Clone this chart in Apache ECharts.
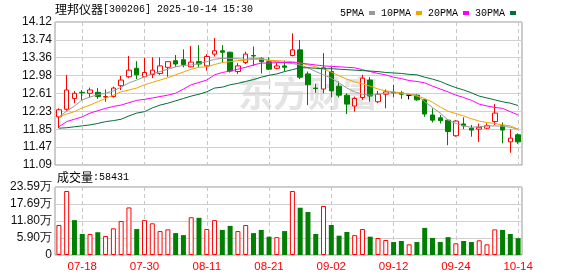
<!DOCTYPE html>
<html><head><meta charset="utf-8">
<script src="https://cdn.jsdelivr.net/npm/echarts@6/dist/echarts.min.js"></script>
<style>html,body{margin:0;padding:0;background:#fff}#c{width:578px;height:276px}</style>
</head><body><div id="c"></div>
<script>
const stockName = '理邦仪器';
const stockCode = '300206';
const timeStamp = '2025-10-14 15:30';
const lastVolume = 58431;

const dates = ['07-15','07-16','07-17','07-18','07-21','07-22','07-23','07-24','07-25','07-28','07-29','07-30','07-31',
'08-01','08-04','08-05','08-06','08-07','08-08','08-11','08-12','08-13','08-14','08-15','08-18','08-19','08-20','08-21','08-22','08-25','08-26','08-27','08-28','08-29',
'09-01','09-02','09-03','09-04','09-05','09-08','09-09','09-10','09-11','09-12','09-15','09-16','09-17','09-18','09-19','09-22','09-23','09-24','09-25','09-26','09-29','09-30',
'10-09','10-10','10-13','10-14'];
const xTickLabels = ['07-18','07-30','08-11','08-21','09-02','09-12','09-24','10-14'];

const opens  = [12.11,12.27,12.50,12.63,12.61,12.63,12.53,12.54,12.77,12.96, 13.14,12.96,13.01,13.03,13.16,13.30,13.32,13.17,13.28,13.19, 13.44,13.51,13.48,13.07,13.26,13.41,13.35,13.28,13.14,13.19, 13.41,13.53,13.02,12.72,12.70,13.07,12.76,12.57,12.34,12.52, 12.89,12.43,12.59,12.63,12.62,12.57,12.57,12.47,12.15,12.09, 12.04,11.71,11.96,11.87,11.85,11.87,12.01,11.92,11.58,11.73];
const closes = [12.26,12.68,12.61,12.62,12.68,12.54,12.54,12.72,12.89,13.10, 13.00,13.05,13.10,13.19,13.28,13.23,13.22,13.27,13.23,13.39, 13.51,13.48,13.08,13.19,13.44,13.40,13.28,13.12,13.19,13.16, 13.53,12.95,12.79,12.71,13.15,12.66,12.57,12.38,12.50,12.93, 12.55,12.59,12.64,12.62,12.59,12.57,12.47,12.17,12.04,12.03, 11.80,12.02,11.92,11.83,11.89,11.92,12.19,11.83,11.66,11.58];
const lows   = [11.87,12.24,12.40,12.47,12.52,12.49,12.43,12.52,12.68,12.93, 12.91,12.95,12.93,13.00,12.96,13.17,13.16,13.16,13.17,13.09, 13.39,13.26,13.05,13.02,13.23,13.19,13.03,13.10,13.12,13.07, 13.39,12.91,12.36,12.62,12.61,12.52,12.52,12.17,12.22,12.47, 12.43,12.40,12.29,12.52,12.49,12.48,12.45,12.11,11.99,11.97, 11.51,11.69,11.85,11.69,11.58,11.85,11.94,11.55,11.35,11.54];
const highs  = [12.29,13.00,12.66,12.68,12.73,12.72,12.69,12.75,12.98,13.40, 13.29,13.36,13.37,13.37,13.28,13.42,13.54,13.61,13.63,13.44, 13.78,13.63,13.49,13.25,13.49,13.60,13.37,13.37,13.25,13.30, 13.88,13.74,13.07,12.81,13.46,13.17,12.86,12.61,12.54,13.00, 12.95,12.66,12.69,12.79,12.66,12.57,12.59,12.48,12.29,12.15, 12.06,12.04,12.10,11.94,11.97,11.97,12.38,11.99,11.85,11.76];

const ma5  = [12.11,12.23,12.34,12.47,12.53,12.58,12.61,12.66,12.74,12.83, 12.89,12.96,13.02,13.07,13.12,13.17,13.20,13.21,13.24,13.28, 13.33,13.35,13.35,13.34,13.33,13.35,13.35,13.30,13.28,13.26, 13.24,13.21,13.15,13.07,13.00,12.93,12.83,12.72,12.64,12.59, 12.57,12.59,12.61,12.62,12.61,12.59,12.57,12.43,12.31,12.19, 12.04,11.97,11.92,11.89,11.90,11.92,11.92,11.91,11.89,11.85];
const ma10 = [12.11,12.17,12.22,12.30,12.36,12.43,12.50,12.57,12.64,12.68, 12.72,12.79,12.84,12.89,12.94,13.00,13.06,13.12,13.16,13.17, 13.22,13.26,13.28,13.30,13.31,13.33,13.33,13.31,13.30,13.29, 13.28,13.25,13.21,13.17,13.12,13.06,12.98,12.91,12.85,12.81, 12.76,12.70,12.66,12.64,12.62,12.59,12.55,12.50,12.42,12.32, 12.23,12.18,12.13,12.07,12.02,11.99,11.97,11.94,11.92,11.85];
const ma20 = [11.90,12.01,12.06,12.11,12.19,12.24,12.29,12.33,12.36,12.41, 12.46,12.48,12.51,12.54,12.57,12.61,12.70,12.79,12.84,12.89, 13.00,13.05,13.08,13.12,13.16,13.21,13.25,13.25,13.26,13.26, 13.26,13.25,13.23,13.21,13.19,13.18,13.17,13.16,13.15,13.11, 13.07,13.03,13.00,12.95,12.92,12.88,12.86,12.83,12.76,12.70, 12.64,12.57,12.52,12.46,12.38,12.34,12.31,12.29,12.22,12.15];
const ma30 = [11.87,11.88,11.90,11.92,11.94,11.97,12.01,12.03,12.06,12.13, 12.19,12.22,12.30,12.36,12.40,12.45,12.50,12.55,12.59,12.64, 12.72,12.74,12.79,12.82,12.86,12.90,12.95,12.99,13.02,13.07, 13.11,13.15,13.15,13.14,13.13,13.13,13.12,13.11,13.10,13.09, 13.08,13.07,13.05,13.04,13.03,13.01,13.00,12.95,12.91,12.86, 12.79,12.73,12.68,12.62,12.55,12.51,12.47,12.43,12.40,12.35];

// volume in 万 (10k)
const volumes = [10.4,22.2,12.1,7.3,7.3,7.9,6.6,9.25,11.8,16.5, 9.0,12.1,11.0,8.3,8.9,7.6,6.9,13.1,12.9,9.0, 12.1,8.7,10.1,8.3,10.4,7.6,8.7,6.35,6.2,8.3, 22.2,16.4,14.9,7.3,17.0,10.4,6.7,8.0,6.9,9.0, 6.35,5.9,5.2,4.5,4.85,3.7,4.5,9.4,5.9,4.5, 6.2,4.05,4.85,4.5,5.1,3.7,8.9,8.7,7.3,5.84];
const volUp = [1,1,0,0,1,0,1,1,1,1, 0,1,1,1,1,0,0,1,0,1, 1,0,0,1,1,0,0,0,1,0, 1,0,0,0,1,0,0,0,1,1, 0,1,1,0,0,1,0,0,0,0, 0,1,0,0,1,1,1,0,0,0];

const priceMin = 11.09, priceMax = 14.12, priceSteps = 8;
const volMax = 23.59, volSteps = 4;

const UP = '#ff0000', DOWN = '#008000';
const fmt2 = v => (Math.round(v * 100 + 1e-6) / 100).toFixed(2);
const showTick = (i, v) => xTickLabels.indexOf(v === undefined ? dates[i] : v) >= 0 || xTickLabels.indexOf(dates[i]) >= 0;
const gridLineColor = '#d0d0d0';
const dashColor = '#c8c8c8';

const chart = echarts.init(document.getElementById('c'));
const option = {
  animation: false,
  backgroundColor: '#fff',
  textStyle: { fontFamily: '"Liberation Sans", Arial, sans-serif' },
  graphic: [
    { type: 'text', left: 238, top: 76, z: -10, silent: true,
      style: { text: '东方财富', font: 'bold 35px "Noto Sans CJK SC"', fill: '#e4e4e4' } },
    { type: 'text', left: 55, top: 3,
      style: { text: '{a|' + stockName + '}{b|[' + stockCode + '] ' + timeStamp + '}',
        rich: { a: { fontFamily: '"Noto Sans CJK SC"', fontSize: 12, fill: '#000' },
                b: { fontFamily: '"Liberation Mono"', fontSize: 10, fill: '#000' } } } },
    { type: 'text', left: 57, top: 171,
      style: { text: '{a|成交量}{b|:' + lastVolume + '}',
        rich: { a: { fontFamily: '"Noto Sans CJK SC"', fontSize: 12, fill: '#000' },
                b: { fontFamily: '"Liberation Mono"', fontSize: 10, fill: '#000' } } } }
  ],
  legend: {
    data: ['5PMA', '10PMA', '20PMA', '30PMA'],
    left: 335, top: 3, align: 'right', icon: 'rect', itemWidth: 6, itemHeight: 4, itemGap: 6,
    selectedMode: false,
    textStyle: { fontFamily: '"Liberation Mono"', fontSize: 10, color: '#000' }
  },
  grid: [
    { left: 55, top: 22, width: 467, height: 143, show: true, borderColor: '#999', borderWidth: 1 },
    { left: 55, top: 187, width: 467, height: 68, show: true, borderColor: '#999', borderWidth: 1 }
  ],
  xAxis: [
    { type: 'category', gridIndex: 0, data: dates, boundaryGap: true,
      axisLine: { show: false }, axisTick: { show: false }, axisLabel: { show: false },
      splitLine: { show: true, interval: showTick, alignWithLabel: true, lineStyle: { color: dashColor, type: [4, 3] } } },
    { type: 'category', gridIndex: 1, data: dates, boundaryGap: true,
      axisLine: { show: false }, axisTick: { show: false },
      axisLabel: { show: true, interval: showTick, color: '#ff0000', fontSize: 11.5, margin: 6,
        fontFamily: '"Liberation Sans", Arial, sans-serif' },
      splitLine: { show: true, interval: showTick, alignWithLabel: true, lineStyle: { color: dashColor, type: [4, 3] } } }
  ],
  yAxis: [
    { type: 'value', gridIndex: 0, min: priceMin, max: priceMax, interval: (priceMax - priceMin) / priceSteps,
      axisLine: { show: false }, axisTick: { show: false },
      axisLabel: { formatter: fmt2, color: '#111', fontSize: 12, margin: 3 },
      splitLine: { lineStyle: { color: gridLineColor } } },
    { type: 'value', gridIndex: 1, min: 0, max: volMax, interval: volMax / volSteps,
      axisLine: { show: false }, axisTick: { show: false },
      axisLabel: { formatter: v => v === 0 ? '0' : fmt2(v) + '万', color: '#111', fontSize: 12, margin: 3 },
      splitLine: { lineStyle: { color: gridLineColor } } }
  ],
  series: [
    { type: 'candlestick', xAxisIndex: 0, yAxisIndex: 0, barWidth: 5,
      data: dates.map((d, i) => [opens[i], closes[i], lows[i], highs[i]]),
      itemStyle: { color: '#fff', color0: DOWN, borderColor: UP, borderColor0: DOWN, borderColorDoji: '#000', borderWidth: 1 } },
    { type: 'line', name: '5PMA', data: ma5, symbol: 'none', color: '#999999', lineStyle: { width: 1, color: '#999999' } },
    { type: 'line', name: '10PMA', data: ma10, symbol: 'none', color: '#f5a300', lineStyle: { width: 1, color: '#f5a300' } },
    { type: 'line', name: '20PMA', data: ma20, symbol: 'none', color: '#ff00ff', lineStyle: { width: 1, color: '#ff00ff' } },
    { type: 'line', name: '30PMA', data: ma30, symbol: 'none', color: '#00703a', lineStyle: { width: 1, color: '#00703a' } },
    { type: 'bar', xAxisIndex: 1, yAxisIndex: 1, barWidth: 5,
      data: volumes.map((v, i) => ({ value: v,
        itemStyle: volUp[i] ? { color: '#fff', borderColor: UP, borderWidth: 1 } : { color: DOWN } })) }
  ]
};
chart.setOption(option);
</script></body></html>
